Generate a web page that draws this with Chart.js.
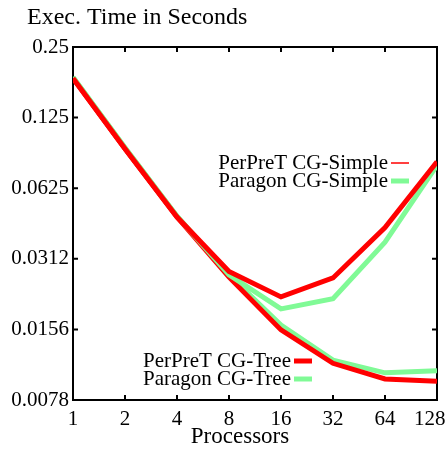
<!DOCTYPE html>
<html>
<head>
<meta charset="utf-8">
<script src="https://cdn.jsdelivr.net/npm/chart.js@4.4.0/dist/chart.umd.min.js"></script>
<style>body{margin:0;background:#fff}</style>
</head>
<body>
<canvas id="chart" width="446" height="450"></canvas>
<script>
const processors = [1, 2, 4, 8, 16, 32, 64, 128];
// the last label sits pulled in from the right edge in the original
const xTickLabels = ['1', '2', '4', '8', '16', '32', '64', '128\u2002\u2009'];
const yTicks = [0.25, 0.125, 0.0625, 0.03125, 0.015625, 0.0078125];
const yTickLabels = ['0.25', '0.125', '0.0625', '0.0312', '0.0156', '0.0078'];

const perpretSimple = [0.184, 0.092, 0.0471, 0.0276, 0.0215, 0.0259, 0.0425, 0.081];
const paragonSimple = [0.186, 0.093, 0.0475, 0.0267, 0.0191, 0.0211, 0.0368, 0.0783];
const perpretTree = [0.184, 0.092, 0.0471, 0.0261, 0.01555, 0.0112, 0.0096, 0.0094];
const paragonTree = [0.186, 0.093, 0.0475, 0.0267, 0.0163, 0.01155, 0.0102, 0.0104];

const RED = '#ff0000';
const GREEN = 'rgb(128,250,150)';
const SERIF = '"Liberation Serif", "DejaVu Serif", serif';
const FONT = '21px ' + SERIF;

const pts = arr => arr.map((v, i) => ({x: processors[i], y: v}));

// legend keys: two groups like the gnuplot keys
const keyGroups = [
  {sets: [0, 1], right: 388, y: 163},
  {sets: [2, 3], right: 291, y: 361}
];
const keyLineWidths = [1.5, 5, 5, 5];

const framePlugin = {
  id: 'frame',
  beforeDatasetsDraw(chart) {
    const {ctx, chartArea: a, scales: {x, y}} = chart;
    ctx.save();
    ctx.strokeStyle = '#000';
    ctx.lineWidth = 2;
    ctx.strokeRect(a.left, a.top, a.right - a.left, a.bottom - a.top);
    ctx.beginPath();
    processors.forEach(v => {
      const px = x.getPixelForValue(v);
      ctx.moveTo(px, a.bottom); ctx.lineTo(px, a.bottom - 5);
      ctx.moveTo(px, a.top); ctx.lineTo(px, a.top + 5);
    });
    yTicks.forEach(v => {
      const py = y.getPixelForValue(v);
      ctx.moveTo(a.left, py); ctx.lineTo(a.left + 5, py);
      ctx.moveTo(a.right, py); ctx.lineTo(a.right - 5, py);
    });
    ctx.stroke();
    ctx.restore();
  },
  afterDraw(chart) {
    const {ctx} = chart;
    ctx.save();
    ctx.fillStyle = '#000';
    ctx.textBaseline = 'middle';
    ctx.textAlign = 'left';
    ctx.font = '24px ' + SERIF;
    ctx.fillText('Exec. Time in Seconds', 27, 18);
    ctx.textAlign = 'center';
    ctx.font = '23px ' + SERIF;
    ctx.fillText('Processors', 240, 437);
    ctx.font = FONT;
    keyGroups.forEach(g => {
      g.sets.forEach((idx, k) => {
        const ds = chart.data.datasets[idx];
        const yy = g.y + k * 18;
        ctx.textAlign = 'right';
        ctx.fillStyle = '#000';
        ctx.fillText(ds.label, g.right, yy);
        ctx.strokeStyle = ds.borderColor;
        ctx.lineWidth = keyLineWidths[idx];
        ctx.beginPath();
        ctx.moveTo(g.right + 3, yy);
        ctx.lineTo(g.right + 21, yy);
        ctx.stroke();
      });
    });
    ctx.restore();
  }
};

new Chart(document.getElementById('chart'), {
  type: 'line',
  data: {
    datasets: [
      {label: 'PerPreT CG-Simple', data: pts(perpretSimple), borderColor: RED, borderWidth: 5},
      {label: 'Paragon CG-Simple', data: pts(paragonSimple), borderColor: GREEN, borderWidth: 5},
      {label: 'PerPreT CG-Tree', data: pts(perpretTree), borderColor: RED, borderWidth: 5},
      {label: 'Paragon CG-Tree', data: pts(paragonTree), borderColor: GREEN, borderWidth: 5}
    ]
  },
  options: {
    responsive: false,
    animation: false,
    layout: {padding: {top: 47, left: 0, right: 0, bottom: 0}},
    elements: {point: {radius: 0}, line: {tension: 0, fill: false}},
    plugins: {legend: {display: false}, tooltip: {enabled: false}},
    scales: {
      x: {
        type: 'logarithmic', min: 1, max: 128,
        afterBuildTicks: s => { s.ticks = processors.map(v => ({value: v})); },
        afterFit: s => { s.height = 50; s.paddingRight = 9; },
        ticks: {
          callback: (v, i) => xTickLabels[i],
          font: {family: SERIF, size: 21},
          color: '#000', maxRotation: 0, autoSkip: false, padding: 7
        },
        grid: {display: false, drawTicks: false},
        border: {display: false}
      },
      y: {
        type: 'logarithmic', min: 0.0078125, max: 0.25,
        afterBuildTicks: s => { s.ticks = yTicks.map(v => ({value: v})); },
        afterFit: s => { s.width = 73; },
        ticks: {
          callback: (v, i) => yTickLabels[i],
          font: {family: SERIF, size: 21},
          color: '#000', autoSkip: false, padding: 4
        },
        grid: {display: false, drawTicks: false},
        border: {display: false}
      }
    }
  },
  plugins: [framePlugin]
});
</script>
</body>
</html>
